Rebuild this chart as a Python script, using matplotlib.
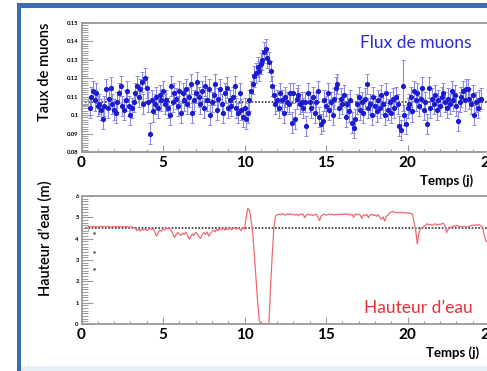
import numpy as np
import matplotlib
matplotlib.use('Agg')
import matplotlib.pyplot as plt
from matplotlib.ticker import MultipleLocator, AutoMinorLocator, FuncFormatter
from matplotlib.patches import Rectangle

plt.rcParams['font.family'] = ['Lato', 'DejaVu Sans']

# taux de muons, un point tous les 0.1 j a partir de 0.5 j
muon_start = 0.5
muon_step = 0.1
muon_rate = [
    0.104, 0.110, 0.113, 0.108, 0.112, 0.105,
    0.106, 0.103, 0.098, 0.105, 0.114, 0.104, 0.109, 0.115, 0.106, 0.103,
    0.101, 0.107, 0.112, 0.116, 0.105, 0.103, 0.108, 0.113, 0.105, 0.100,
    0.104, 0.107, 0.112, 0.116, 0.110, 0.114, 0.118, 0.106, 0.120, 0.115,
    0.107, 0.090, 0.108, 0.102, 0.106, 0.110, 0.104, 0.111, 0.108, 0.113,
    0.106, 0.108, 0.104, 0.100, 0.116, 0.107, 0.112, 0.109, 0.105, 0.113,
    0.101, 0.112, 0.108, 0.114, 0.106, 0.110, 0.117, 0.101, 0.108, 0.112,
    0.118, 0.110, 0.106, 0.113, 0.104, 0.116, 0.108, 0.114, 0.100, 0.107,
    0.111, 0.117, 0.103, 0.109, 0.114, 0.106, 0.101, 0.112, 0.115, 0.104,
    0.108, 0.105, 0.110, 0.116, 0.104, 0.101, 0.112, 0.103, 0.099, 0.104,
    0.098, 0.101, 0.108, 0.113, 0.117, 0.121, 0.123, 0.126, 0.124, 0.128,
    0.130, 0.134, 0.136, 0.131, 0.129, 0.124, 0.116, 0.111, 0.106, 0.108,
    0.104, 0.112, 0.108, 0.101, 0.110, 0.107, 0.106, 0.112, 0.096, 0.112,
    0.098, 0.109, 0.111, 0.106, 0.107, 0.104, 0.107, 0.094, 0.112, 0.107,
    0.104, 0.110, 0.101, 0.107, 0.113, 0.099, 0.095, 0.097, 0.108, 0.105,
    0.112, 0.103, 0.107, 0.100, 0.109, 0.115, 0.117, 0.104, 0.109, 0.106,
    0.111, 0.099, 0.106, 0.102, 0.108, 0.096, 0.093, 0.098, 0.106, 0.110,
    0.103, 0.107, 0.101, 0.109, 0.117, 0.104, 0.106, 0.100, 0.110, 0.105,
    0.102, 0.108, 0.104, 0.111, 0.106, 0.100, 0.112, 0.103, 0.107, 0.101,
    0.109, 0.104, 0.110, 0.106, 0.094, 0.092, 0.116, 0.100, 0.095, 0.104,
    0.106, 0.110, 0.102, 0.113, 0.108, 0.112, 0.105, 0.109, 0.115, 0.103,
    0.107, 0.095, 0.115, 0.104, 0.109, 0.106, 0.111, 0.103, 0.108, 0.105,
    0.110, 0.112, 0.107, 0.104, 0.109, 0.106, 0.113, 0.108, 0.111, 0.105,
    0.097, 0.107, 0.110, 0.113, 0.108, 0.114, 0.114, 0.109, 0.106, 0.111,
    0.100, 0.107, 0.104, 0.108, 0.109,
]
muon_err = 0.0055
big_err_day = 19.7   # le point avec une grosse barre d'erreur
big_err = 0.014
muon_mean = 0.107

# hauteur d'eau, un point tous les 0.1 j a partir de 0.4 j
eau_start = 0.4
eau_step = 0.1
eau_level = [
    4.55, 4.57, 4.54, 4.58, 4.55, 4.57, 4.53,
    4.56, 4.58, 4.55, 4.57, 4.54, 4.58, 4.56, 4.53, 4.57, 4.55,
    4.58, 4.54, 4.57, 4.55, 4.58, 4.53, 4.56, 4.57, 4.54, 4.56,
    4.55, 4.52, 4.48, 4.38, 4.45, 4.36, 4.44, 4.40, 4.47, 4.38,
    4.43, 4.50, 4.42, 4.48, 4.30, 4.12, 4.28, 4.40, 4.35, 4.46,
    4.40, 4.52, 4.45, 4.50, 4.38, 4.25, 4.05, 4.18, 4.30, 4.22,
    4.15, 4.26, 4.20, 4.30, 4.18, 3.98, 4.10, 4.22, 4.15, 4.30,
    4.24, 4.10, 4.02, 4.18, 4.28, 4.20, 4.32, 4.12, 4.22, 4.34,
    4.40, 4.32, 4.45, 4.38, 4.48, 4.42, 4.50, 4.40, 4.47, 4.44,
    4.50, 4.42, 4.48, 4.52, 4.44, 4.50, 4.46, 4.38, 4.52, 4.45,
    5.00, 5.42, 5.35, 4.90, 4.30, 3.30, 2.20, 1.10, 0.20, 0.00,
    0.00, 0.00, 0.00, 0.00, 0.00, 1.80, 3.20, 4.50, 5.05, 5.12,
    5.15, 5.12, 5.18, 5.14, 5.10, 5.16, 5.13, 5.17, 5.12, 5.15,
    5.10, 5.14, 5.08, 5.16, 5.12, 5.15, 4.98, 5.12, 5.14, 5.10,
    5.13, 5.08, 5.12, 5.15, 5.02, 4.85, 5.05, 5.12, 5.14, 5.10,
    5.13, 5.15, 5.12, 5.16, 5.10, 5.14, 5.12, 5.15, 5.11, 5.16,
    5.13, 5.17, 5.12, 5.15, 5.10, 5.14, 5.00, 5.16, 5.12, 5.15,
    5.10, 4.95, 5.12, 5.08, 5.14, 4.98, 5.10, 5.15, 5.08, 5.12,
    5.05, 5.12, 5.00, 4.90, 5.02, 4.82, 5.05, 5.10, 5.20, 5.25,
    5.28, 5.22, 5.24, 5.20, 5.23, 5.21, 5.24, 5.20, 5.22, 5.19,
    5.20, 5.18, 5.15, 4.80, 4.40, 3.75, 4.25, 4.48, 4.52, 4.58,
    4.62, 4.70, 4.65, 4.68, 4.62, 4.66, 4.70, 4.64, 4.68, 4.66,
    4.70, 4.72, 4.60, 4.28, 4.45, 4.55, 4.52, 4.60, 4.58, 4.62,
    4.60, 4.56, 4.58, 4.55, 4.57, 4.54, 4.56, 4.58, 4.62, 4.64,
    4.62, 4.65, 4.63, 4.66, 4.60, 4.55, 4.20, 3.90, 3.85,
]
eau_mean = 4.5
# petits points parasites a gauche du panneau du bas
stray_day = [0.75, 0.75, 0.75]
stray_val = [4.27, 3.38, 2.58]

x_ticks = [0, 5, 10, 15, 20, 25]

muon_days = [round(muon_start + muon_step * i, 2) for i in range(len(muon_rate))]
eau_days = [round(eau_start + eau_step * i, 2) for i in range(len(eau_level))]
yerr = [big_err if d == big_err_day else muon_err for d in muon_days]

fig = plt.figure(figsize=(4.87, 3.71), dpi=100)
W, H = 487.0, 371.0

def axes_px(left, top, right, bottom):
    return fig.add_axes([left / W, 1 - bottom / H, (right - left) / W, (bottom - top) / H])

ax1 = axes_px(81.5, 23, 489, 152)
ax2 = axes_px(81.5, 196, 489, 324)

frame_col = '#9a9a9a'
for ax in (ax1, ax2):
    ax.set_xlim(0, 25)
    for s in ('top', 'left', 'bottom'):
        ax.spines[s].set_color(frame_col)
        ax.spines[s].set_linewidth(1.3)
    ax.spines['right'].set_visible(False)
    ax.set_xticks(x_ticks)
    ax.xaxis.set_minor_locator(MultipleLocator(1))
    ax.yaxis.set_minor_locator(AutoMinorLocator(8))
    ax.tick_params(axis='x', which='major', direction='in', length=5, width=0.8,
                   color=frame_col, pad=3, labelsize=11)
    ax.tick_params(axis='x', which='minor', direction='in', length=2.5, width=0.8, color=frame_col)
    ax.tick_params(axis='y', which='major', direction='in', length=8, width=0.8,
                   color=frame_col, pad=2, labelsize=4.2)
    ax.tick_params(axis='y', which='minor', direction='in', length=4, width=0.7, color=frame_col)
    ax.patch.set_alpha(0)

# panneau du haut : flux de muons
ax1.set_ylim(0.08, 0.15)
ax1.yaxis.set_major_locator(MultipleLocator(0.01))
ax1.yaxis.set_major_formatter(FuncFormatter(lambda v, p: '%g' % round(v, 2)))
ax1.axhline(muon_mean, xmin=0.008, color='#333333', ls=(0, (1, 1)), lw=1.2, zorder=1)
ax1.plot([0.2], [muon_mean], marker='s', ms=4, mfc='none', mec='#aaaaaa', mew=0.8)
ax1.errorbar(muon_days, muon_rate, yerr=yerr, fmt='o', ms=2.7, color='#1a1ad0',
             ecolor='#8a8ae6', elinewidth=0.8, capsize=1.3, capthick=0.7, zorder=3)

# panneau du bas : hauteur d'eau
ax2.set_ylim(0, 6)
ax2.yaxis.set_major_locator(MultipleLocator(1))
ax2.axhline(eau_mean, xmin=0.008, color='#333333', ls=(0, (1, 1)), lw=1.2, zorder=1)
ax2.plot([0.2], [eau_mean], marker='s', ms=4, mfc='none', mec='#aaaaaa', mew=0.8)
ax2.plot(eau_days, eau_level, color='#ec6a72', lw=0.9, zorder=3)
ax2.plot(stray_day, stray_val, ls='none', marker='.', ms=1.5, color='#444444')

for ax in (ax1, ax2):
    for lab in ax.get_yticklabels() + ax.get_xticklabels():
        lab.set_fontweight('bold')

# textes
fig.text(45 / W, 1 - 72 / H, 'Taux de muons', rotation=90, ha='center', va='center',
         fontsize=10.5, fontweight='semibold')
fig.text(45 / W, 1 - 238 / H, 'Hauteur d\u2019eau (m)', rotation=90, ha='center', va='center',
         fontsize=10.5, fontweight='semibold')
fig.text(416 / W, 1 - 43 / H, 'Flux de muons', ha='center', va='center', fontsize=12.5, color='#2a2ad4')
fig.text(418 / W, 1 - 308 / H, 'Hauteur d\u2019eau', ha='center', va='center', fontsize=12.5, color='#e8303a')
fig.text(447 / W, 1 - 181 / H, 'Temps (j)', ha='center', va='center', fontsize=9.5, fontweight='bold')
fig.text(453 / W, 1 - 353 / H, 'Temps (j)', ha='center', va='center', fontsize=9.5, fontweight='bold')

# cadre bleu de la diapo, ajoute en dernier et au-dessus de tout
for (l, t, r, b, c) in [(20, 366, 487, 371, '#e8eef6'),
                        (17, 3, 487, 8, '#3a6db5'),
                        (17, 3, 20.5, 371, '#3a6db5')]:
    fig.add_artist(Rectangle((l / W, 1 - b / H), (r - l) / W, (b - t) / H,
                             transform=fig.transFigure, facecolor=c, edgecolor='none',
                             zorder=100, clip_on=False))

fig.savefig('out.png', dpi=100)
